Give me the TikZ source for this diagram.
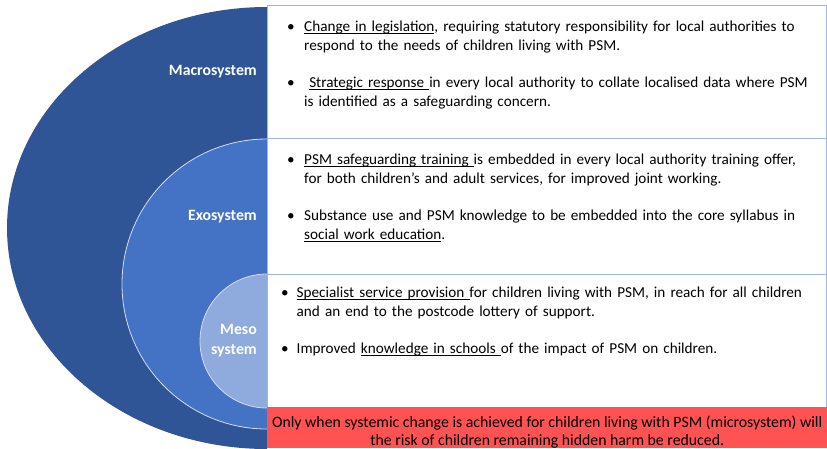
\documentclass[tikz,border=0pt]{standalone}
\usepackage{fontspec}
\setmainfont{Carlito}
\usetikzlibrary{positioning}

\definecolor{macroblue}{HTML}{2F5597}
\definecolor{exoblue}{HTML}{4472C4}
\definecolor{mesoblue}{HTML}{8FAADC}
\definecolor{panelline}{HTML}{9DB5E0}
\definecolor{alertred}{HTML}{FF5252}

% one bulleted point, the text in a box so its second line hangs
\newcommand{\psmpoint}[2][17pt]{\noindent\makebox[#1][l]{\textbullet}\parbox[t]{525pt}{#2}\par}
\newcommand{\psmgap}{\vspace{23pt}}
% underline just under the baseline
\newcommand{\psmul}[1]{\leavevmode\setbox0\hbox{#1}\rlap{\rule[-2pt]{\wd0}{0.7pt}}\box0}

\begin{document}
\begin{tikzpicture}[x=1pt,y=-1pt,
  syslabel/.style={text=white, font=\bfseries\fontsize{15.8}{20}\selectfont, align=right, anchor=east, inner sep=0pt},
  panel/.style={draw=panelline, fill=white, minimum width=559pt, anchor=north west, inner sep=0pt},
  points/.style={text width=545pt, anchor=north west, font=\fontsize{15.2}{19}\selectfont, inner sep=0pt},
  ring/.style={draw=white!60!mesoblue, line width=0.8pt}]
  \useasboundingbox (0,0) rectangle (827,448);

  % the nested systems, cut off at the panels
  \begin{scope}
    \clip (0,0) rectangle (267,448);
    \fill[macroblue] (267,228) ellipse [x radius=260, y radius=221];
    \draw[ring, fill=exoblue] (267,284) circle [radius=145];
    \draw[ring, fill=mesoblue] (267,341) circle [radius=67];
  \end{scope}

  \node[syslabel] (macrolabel) at (257,72) {Macrosystem};
  \node[syslabel] (exolabel) at (257,217) {Exosystem};
  \node[syslabel] (mesolabel) at (257,341) {Meso\\system};

  % text panels
  \node[panel, minimum height=133pt] (macropanel) at (267,5) {};
  \node[panel, minimum height=136pt] (exopanel) at (267,138) {};
  \node[panel, minimum height=133pt] (mesopanel) at (267,274) {};
  \node[panel, draw=none, fill=alertred, minimum width=560pt, minimum height=41pt] (outcome) at (267,407) {};
  \node[align=center, font=\fontsize{15.8}{18}\selectfont, inner sep=0pt] (outcometext)
    at ([yshift=-4.5pt]outcome.center)
    {Only when systemic change is achieved for children living with PSM (microsystem) will\\
     the risk of children remaining hidden harm be reduced.};

  \node[points] (macrotext) at (287,21) {%
    \psmpoint{\psmul{Change in legislation}, requiring statutory responsibility for local authorities to\\
      respond to the needs of children living with PSM.}\psmgap
    \psmpoint{\ \psmul{Strategic response\ }in every local authority to collate localised data where PSM\\
      is identified as a safeguarding concern.}};
  \node[points] (exotext) at (287,154) {%
    \psmpoint{\psmul{PSM safeguarding training\ }is embedded in every local authority training offer,\\
      for both children's and adult services, for improved joint working.}\psmgap
    \psmpoint{Substance use and PSM knowledge to be embedded into the core syllabus in\\
      \psmul{social work education}.}};
  \node[points] (mesotext) at (281,287) {%
    \psmpoint[15.5pt]{\psmul{Specialist service provision\ }for children living with PSM, in reach for all children\\
      and an end to the postcode lottery of support.}\psmgap
    \psmpoint[15.5pt]{Improved \psmul{knowledge in schools\ }of the impact of PSM on children.}};
\end{tikzpicture}
\end{document}
